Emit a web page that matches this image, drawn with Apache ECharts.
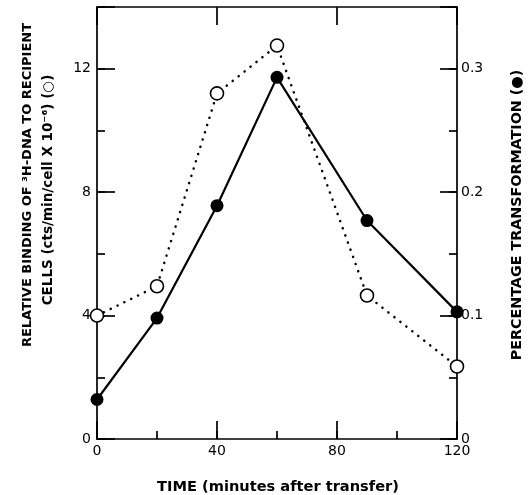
<!DOCTYPE html>
<html>
<head>
<meta charset="utf-8">
<script src="https://cdn.jsdelivr.net/npm/echarts@6/dist/echarts.min.js"></script>
<style>
html,body{margin:0;padding:0;background:#fff;}
#chart{width:532px;height:495px;}
</style>
</head>
<body>
<div id="chart"></div>
<script>
// Data
var timeMinutes = [0, 20, 40, 60, 90, 120];
var bindingOpen = [4.0, 4.95, 11.2, 12.75, 4.65, 2.35];          // left axis (cts/min/cell x 10^-6)
var transformFilled = [0.032, 0.098, 0.189, 0.293, 0.177, 0.103]; // right axis (percentage)
var xTickLabels = ['0', '40', '80', '120'];
var leftTickLabels = ['0', '4', '8', '12'];
var rightTickLabels = ['0', '0.1', '0.2', '0.3'];

var FONT = 'DejaVu Sans';
var chart = echarts.init(document.getElementById('chart'), null, {renderer: 'canvas'});

function pairs(xs, ys) { return xs.map(function (x, i) { return [x, ys[i]]; }); }

var gridRect = {left: 97, right: 75, top: 7, bottom: 56};
var lineCol = '#000';
var W = 1.7;

function majorX(pos, showLabel) {
  return {
    type: 'value', gridIndex: 0, position: pos, min: 0, max: 120, interval: 40,
    axisLine: {show: true, onZero: false, lineStyle: {color: lineCol, width: W}},
    axisTick: {show: true, inside: true, length: 18, lineStyle: {color: lineCol, width: W}},
    axisLabel: {show: showLabel, color: '#000', fontSize: 14, fontFamily: FONT, margin: 5,
      formatter: function (v) { var i = [0, 40, 80, 120].indexOf(v); return i >= 0 ? xTickLabels[i] : ''; }},
    splitLine: {show: false}
  };
}

var option = {
  backgroundColor: '#fff',
  animation: false,
  grid: [
    Object.assign({}, gridRect),
    Object.assign({}, gridRect)
  ],
  xAxis: [
    majorX('bottom', true),
    majorX('top', false),
    {
      type: 'value', gridIndex: 1, position: 'bottom', min: 0, max: 120, interval: 20,
      axisLine: {show: false, onZero: false}, axisLabel: {show: false}, splitLine: {show: false},
      axisTick: {show: true, inside: true, length: 8, lineStyle: {color: lineCol, width: W}}
    }
  ],
  yAxis: [
    {
      type: 'value', gridIndex: 0, position: 'left', min: 0, max: 14, interval: 4,
      axisLine: {show: true, onZero: false, lineStyle: {color: lineCol, width: W}},
      axisTick: {show: true, inside: true, length: 18, lineStyle: {color: lineCol, width: W}},
      axisLabel: {color: '#000', fontSize: 14, fontFamily: FONT, margin: 6,
        formatter: function (v) { var i = [0, 4, 8, 12].indexOf(v); return i >= 0 ? leftTickLabels[i] : ''; }},
      splitLine: {show: false}
    },
    {
      type: 'value', gridIndex: 0, position: 'right', min: 0, max: 0.35, interval: 0.1,
      axisLine: {show: true, onZero: false, lineStyle: {color: lineCol, width: W}},
      axisTick: {show: true, inside: true, length: 17, lineStyle: {color: lineCol, width: W}},
      axisLabel: {color: '#000', fontSize: 14, fontFamily: FONT, margin: 4,
        formatter: function (v) {
          var vals = [0, 0.1, 0.2, 0.3];
          for (var i = 0; i < vals.length; i++) if (Math.abs(v - vals[i]) < 1e-6) return rightTickLabels[i];
          return '';
        }},
      splitLine: {show: false}
    },
    {
      type: 'value', gridIndex: 1, position: 'left', min: 0, max: 14, interval: 2,
      axisLine: {show: false, onZero: false}, axisLabel: {show: false}, splitLine: {show: false},
      axisTick: {show: true, inside: true, length: 8, lineStyle: {color: lineCol, width: W}}
    },
    {
      type: 'value', gridIndex: 1, position: 'right', min: 0, max: 0.35, interval: 0.05,
      axisLine: {show: false, onZero: false}, axisLabel: {show: false}, splitLine: {show: false},
      axisTick: {show: true, inside: true, length: 8, lineStyle: {color: lineCol, width: W}}
    }
  ],
  series: [
    {
      name: 'binding', type: 'line', xAxisIndex: 0, yAxisIndex: 0,
      data: pairs(timeMinutes, bindingOpen),
      symbol: 'circle', symbolSize: 13,
      itemStyle: {color: '#fff', borderColor: '#000', borderWidth: 1.6},
      lineStyle: {color: '#000', width: 2.5, type: [0.1, 7.5], cap: 'round'},
      z: 3
    },
    {
      name: 'transformation', type: 'line', xAxisIndex: 0, yAxisIndex: 1,
      data: pairs(timeMinutes, transformFilled),
      symbol: 'circle', symbolSize: 13,
      itemStyle: {color: '#000', borderColor: '#000', borderWidth: 0},
      lineStyle: {color: '#000', width: 2.2},
      z: 4
    }
  ],
  graphic: [
    {
      type: 'text', x: 28, y: 185, rotation: Math.PI / 2,
      style: {text: 'RELATIVE BINDING OF ³H-DNA TO RECIPIENT', fill: '#000', fontSize: 13, fontWeight: 'bold',
        fontFamily: FONT, align: 'center', verticalAlign: 'middle'}
    },
    {
      type: 'text', x: 48, y: 190, rotation: Math.PI / 2,
      style: {text: 'CELLS (cts/min/cell X 10⁻⁶) (○)', fill: '#000', fontSize: 13.5, fontWeight: 'bold',
        fontFamily: FONT, align: 'center', verticalAlign: 'middle'}
    },
    {
      type: 'text', x: 517, y: 215, rotation: Math.PI / 2,
      style: {text: 'PERCENTAGE TRANSFORMATION (●)', fill: '#000', fontSize: 14.3, fontWeight: 'bold',
        fontFamily: FONT, align: 'center', verticalAlign: 'middle'}
    },
    {
      type: 'text', x: 278, y: 487,
      style: {text: 'TIME (minutes after transfer)', fill: '#000', fontSize: 14.6, fontWeight: 'bold',
        fontFamily: FONT, align: 'center', verticalAlign: 'middle'}
    }
  ]
};
chart.setOption(option);
</script>
</body>
</html>
